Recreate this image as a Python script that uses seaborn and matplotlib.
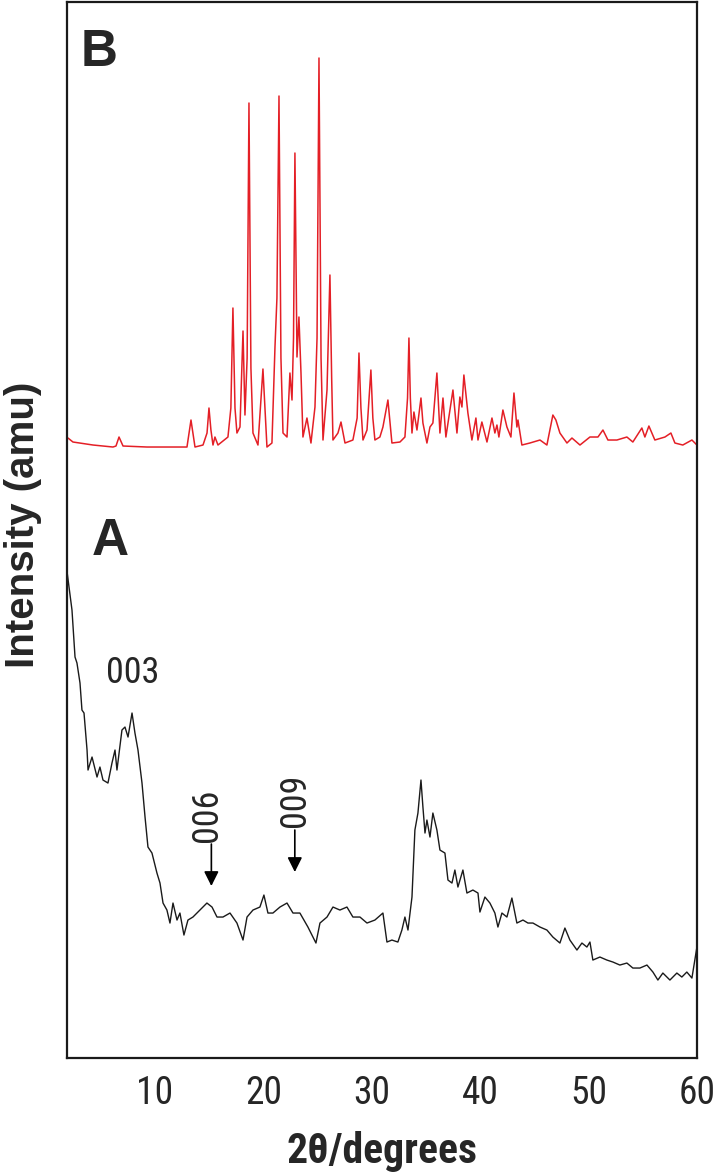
import matplotlib
matplotlib.use('Agg')
import matplotlib.pyplot as plt
from matplotlib import font_manager
from matplotlib.ticker import MultipleLocator
import seaborn as sns
import pandas as pd

# pattern A (black): 2theta / intensity
a_theta = [1.9, 2.34, 2.62, 2.8, 3.08, 3.26, 3.45, 3.73, 3.82, 4.19, 4.65, 4.92,
           5.2, 5.66, 6.03, 6.31, 6.49, 6.95, 7.23, 7.51, 7.88, 8.15, 8.43, 8.8,
           9.08, 9.35, 9.72, 10.18, 10.46, 10.74, 11.1, 11.38, 11.66, 12.03, 12.3,
           12.67, 13.04, 13.5, 14.15, 14.79, 15.26, 15.72, 16.27, 16.92, 17.56,
           18.12, 18.49, 19.04, 19.68, 20.05, 20.42, 20.88, 21.53, 22.18, 22.73,
           23.37, 24.11, 24.85, 25.22, 25.87, 26.42, 27.06, 27.71, 28.26, 28.91,
           29.56, 30.29, 31.03, 31.4, 31.86, 32.41, 32.78, 33.06, 33.34, 33.71,
           33.98, 34.26, 34.54, 34.72, 34.91, 35.09, 35.37, 35.64, 36.01, 36.29,
           36.75, 37.03, 37.4, 37.67, 37.95, 38.41, 38.78, 39.33, 39.8, 39.98,
           40.44, 40.9, 41.36, 41.64, 42.01, 42.47, 42.93, 43.39, 43.95, 44.41,
           44.87, 45.52, 46.16, 46.71, 47.36, 47.82, 48.28, 48.93, 49.39, 49.85,
           50.13, 50.4, 51.05, 51.69, 52.25, 52.89, 53.54, 54.09, 54.74, 55.39,
           55.94, 56.4, 56.86, 57.51, 58.15, 58.61, 59.07, 59.54, 60.0]
a_int = [485, 448, 401, 395, 375, 348, 345, 308, 288, 301, 281, 291,
         278, 275, 295, 308, 288, 328, 331, 321, 345, 325, 308, 275,
         241, 211, 205, 185, 175, 155, 148, 135, 155, 138, 145,
         123, 138, 141, 148, 155, 151, 141, 141, 145, 135,
         118, 141, 148, 151, 163, 145, 145, 151, 155, 145,
         145, 131, 115, 135, 141, 151, 148, 151, 141, 141,
         135, 138, 145, 116, 118, 116, 128, 141, 128, 161,
         228, 245, 278, 251, 225, 238, 221, 245, 228, 208,
         205, 178, 175, 188, 171, 188, 165, 168, 165, 146,
         161, 155, 145, 131, 145, 141, 160, 135, 138, 135,
         135, 131, 128, 121, 115, 130, 118, 108, 115, 111,
         116, 98, 101, 98, 96, 93, 95, 90, 90, 93,
         86, 78, 85, 78, 85, 81, 86, 80, 111]

# pattern B (red)
b_theta = [1.97, 2.43, 4.28, 6.12, 6.4, 6.68, 7.05, 9.26, 11.38, 12.95, 13.32,
           13.69, 14.43, 14.8, 14.98, 15.16, 15.35, 15.53, 15.81, 16.73, 17.0,
           17.19, 17.38, 17.56, 17.84, 18.12, 18.3, 18.5, 18.67, 18.85, 19.04,
           19.5, 19.96, 20.33, 20.79, 21.07, 21.25, 21.44, 21.62, 21.81, 22.18,
           22.45, 22.64, 22.78, 22.91, 23.1, 23.28, 23.47, 23.65, 24.02, 24.39,
           24.76, 24.95, 25.13, 25.32, 25.5, 25.87, 26.14, 26.3, 26.42, 26.88,
           27.16, 27.53, 28.26, 28.65, 28.82, 29.0, 29.19, 29.56, 29.92, 30.1,
           30.29, 30.75, 31.03, 31.49, 31.86, 32.6, 33.06, 33.3, 33.43, 33.56,
           33.71, 33.89, 34.17, 34.54, 34.72, 35.09, 35.37, 35.64, 36.01, 36.29,
           36.57, 36.84, 37.21, 37.49, 37.86, 38.13, 38.32, 38.5, 38.87, 39.24,
           39.61, 39.8, 40.16, 40.63, 41.09, 41.36, 41.55, 41.73, 42.1, 42.47,
           42.84, 43.12, 43.39, 43.49, 43.85, 44.59, 45.52, 46.16, 46.71, 46.99,
           47.36, 48.01, 48.47, 49.21, 50.13, 50.87, 51.33, 51.79, 52.62, 53.54,
           54.09, 54.92, 55.2, 55.57, 56.12, 57.05, 57.6, 57.97, 58.7, 59.54,
           60.0]
b_int = [620, 616, 613, 611, 612, 621, 612, 611, 611, 611, 638,
         611, 613, 625, 650, 628, 613, 621, 613, 621, 650,
         750, 650, 625, 631, 727, 643, 700, 955, 690, 625,
         613, 689, 611, 615, 711, 760, 962, 700, 625, 621,
         685, 658, 720, 905, 701, 741, 685, 621, 640, 615,
         651, 720, 1000, 700, 618, 668, 783, 680, 618, 625,
         636, 615, 618, 640, 705, 650, 618, 628, 688, 640,
         618, 621, 631, 658, 615, 616, 621, 660, 720, 660,
         625, 646, 628, 660, 635, 615, 631, 635, 685, 625,
         660, 621, 648, 668, 625, 661, 651, 683, 645, 618,
         640, 618, 636, 616, 640, 625, 633, 621, 648, 631,
         621, 665, 631, 638, 613, 615, 618, 613, 643, 638,
         625, 615, 620, 613, 621, 621, 628, 618, 618, 621,
         616, 630, 621, 632, 618, 621, 625, 615, 613, 618,
         613]

df_a = pd.DataFrame({'theta': a_theta, 'intensity': a_int})
df_b = pd.DataFrame({'theta': b_theta, 'intensity': b_int})

sns.set_style('white')

# a narrow sans is used for the numbers in the original, pick one if present
names = {f.name for f in font_manager.fontManager.ttflist}
narrow = next((n for n in ['Liberation Sans Narrow', 'Roboto Condensed',
                           'Arial Narrow'] if n in names), None)
if narrow:
    plt.rcParams['font.family'] = [narrow, 'Liberation Sans', 'DejaVu Sans']
    num_size, xl_size = 27, 30
else:
    plt.rcParams['font.family'] = ['Liberation Sans', 'DejaVu Sans']
    num_size, xl_size = 23, 27
wide = ['Liberation Sans', 'DejaVu Sans']

fig = plt.figure(figsize=(7.15, 11.73), dpi=100)
ax = fig.add_axes([0.0937, 0.098, 0.881, 0.9003])

sns.lineplot(data=df_a, x='theta', y='intensity', ax=ax, estimator=None,
             sort=False, color='#1a1a1a', lw=1.0)
sns.lineplot(data=df_b, x='theta', y='intensity', ax=ax, estimator=None,
             sort=False, color='#e41f26', lw=1.1)

ax.set_xlim(1.88, 60)
ax.set_ylim(0, 1056)
ax.xaxis.set_major_locator(MultipleLocator(10))
ax.xaxis.set_minor_locator(MultipleLocator(5))
ax.set_yticks([])
ax.tick_params(axis='x', which='major', direction='in', length=11, width=1.5,
               labelsize=num_size, pad=12, top=False)
ax.tick_params(axis='x', which='minor', direction='in', length=6, width=1.5, top=False)
for sp in ax.spines.values():
    sp.set_linewidth(1.6)
    sp.set_color('#1a1a1a')

ax.set_xlabel('2θ/degrees', fontsize=xl_size, fontweight='bold', labelpad=14)
ax.set_ylabel('Intensity (amu)', fontsize=29, fontweight='bold', family=wide)
ax.yaxis.set_label_coords(-0.04, 0.505)

ax.text(0.022, 0.975, 'B', transform=ax.transAxes, fontsize=37,
        fontweight='bold', va='top', ha='left', family=wide)
ax.text(0.04, 0.512, 'A', transform=ax.transAxes, fontsize=37,
        fontweight='bold', va='top', ha='left', family=wide)

ax.text(7.9, 385, '003', fontsize=num_size - 1, ha='center', va='center')
ax.text(14.8, 243, '006', fontsize=num_size - 1, ha='center', va='center', rotation=90)
ax.text(22.9, 258, '009', fontsize=num_size - 1, ha='center', va='center', rotation=90)
ax.annotate('', xy=(15.2, 172), xytext=(15.2, 214),
            arrowprops=dict(arrowstyle='-|>', color='black', lw=1.2,
                            mutation_scale=22, shrinkA=0, shrinkB=0))
ax.annotate('', xy=(22.9, 186), xytext=(22.9, 228),
            arrowprops=dict(arrowstyle='-|>', color='black', lw=1.2,
                            mutation_scale=22, shrinkA=0, shrinkB=0))

fig.savefig('out.png', dpi=100)
